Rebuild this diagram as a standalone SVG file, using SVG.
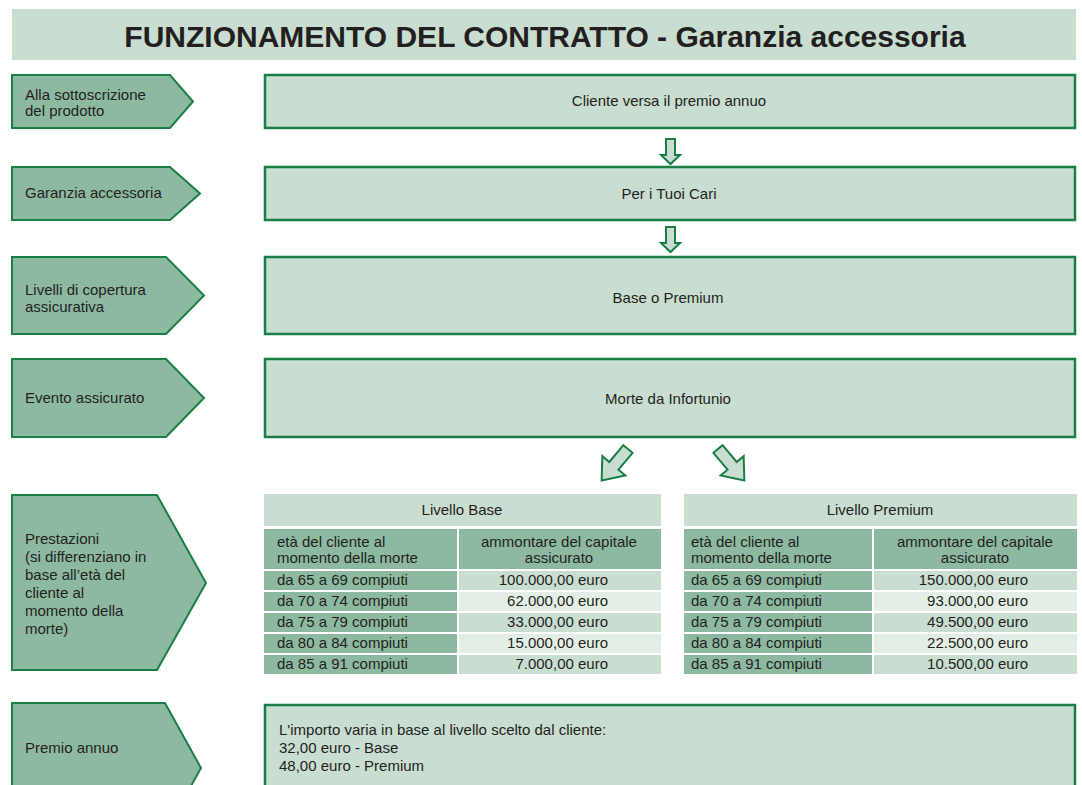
<svg xmlns="http://www.w3.org/2000/svg" width="1082" height="785" viewBox="0 0 1082 785">
<style>
text{font-family:"Liberation Sans",Arial,sans-serif;fill:#231f20;font-size:15px}
.title{font-size:30px;font-weight:bold;text-anchor:middle}
.pent{fill:#8db9a0;stroke:#1a7f45;stroke-width:2}
.box{fill:#c9ddd1;stroke:#1a7f45;stroke-width:2.5}
.arr{fill:#c9ddd1;stroke:#1a7f45;stroke-width:2;stroke-linejoin:miter}
.mid{fill:#8db9a0}
.lt{fill:#c9ddd1}
.lt2{fill:#e3efe6}
.c{text-anchor:middle}
.e{text-anchor:end}
</style>
<rect x="0" y="0" width="1082" height="785" fill="#ffffff"/>
<g id="title">
<rect x="12" y="9" width="1064" height="51" fill="#c9ddd1"/>
<text class="title" x="545" y="47">FUNZIONAMENTO DEL CONTRATTO - Garanzia accessoria</text>
</g>
<g id="lbl1"><polygon class="pent" points="12,75 170,75 193,101.5 170,128 12,128"/><text x="25" y="100">Alla sottoscrizione</text><text x="25" y="116">del prodotto</text></g>
<g id="lbl2"><polygon class="pent" points="12,167 170,167 200,193.5 170,220 12,220"/><text x="25" y="198">Garanzia accessoria</text></g>
<g id="lbl3"><polygon class="pent" points="12,257 166,257 204,295.5 166,334 12,334"/><text x="25" y="295">Livelli di copertura</text><text x="25" y="312">assicurativa</text></g>
<g id="lbl4"><polygon class="pent" points="12,359 166,359 204,398 166,437 12,437"/><text x="25" y="403">Evento assicurato</text></g>
<g id="lbl5"><polygon class="pent" points="12,495 157,495 206,583 157,670 12,670"/>
<text x="25" y="544">Prestazioni</text><text x="25" y="562">(si differenziano in</text><text x="25" y="580">base all’età del</text><text x="25" y="598">cliente al</text><text x="25" y="616">momento della</text><text x="25" y="634">morte)</text></g>
<g id="lbl6"><polygon class="pent" points="12,703 165,703 201,768 165,833 12,833"/><text x="25" y="753">Premio annuo</text></g>

<g id="box1"><rect class="box" x="265" y="75" width="810" height="53"/><text class="c" x="669" y="106">Cliente versa il premio annuo</text></g>
<g id="box2"><rect class="box" x="265" y="167" width="810" height="53"/><text class="c" x="669" y="199">Per i Tuoi Cari</text></g>
<g id="box3"><rect class="box" x="265" y="257" width="810" height="77"/><text class="c" x="668" y="303">Base o Premium</text></g>
<g id="box4"><rect class="box" x="265" y="359" width="810" height="78"/><text class="c" x="668" y="404">Morte da Infortunio</text></g>
<g id="box6"><rect class="box" x="265" y="705" width="810" height="100"/>
<text x="279" y="735">L'importo varia in base al livello scelto dal cliente:</text>
<text x="279" y="753">32,00 euro - Base</text>
<text x="279" y="771">48,00 euro - Premium</text></g>

<g id="connectors">
<polygon class="arr" points="666,139 675,139 675,155 680,155 670.5,164 661,155 666,155"/>
<polygon class="arr" points="666,227 675,227 675,243 680,243 670.5,252 661,243 666,243"/>
<polygon class="arr" transform="translate(628,449) rotate(40)" points="-6,0 6,0 6,22 15,22 0,41 -15,22 -6,22"/>
<polygon class="arr" transform="translate(718,449) rotate(-40)" points="-6,0 6,0 6,22 15,22 0,41 -15,22 -6,22"/>
</g>

<g id="table-base">
<rect class="lt" x="264" y="494" width="397" height="32"/>
<text class="c" x="462" y="515">Livello Base</text>
<rect class="mid" x="264" y="529" width="193" height="40"/>
<rect class="mid" x="459" y="529" width="202" height="40"/>
<text x="277" y="547">età del cliente al</text><text x="277" y="563">momento della morte</text>
<text class="c" x="559" y="547">ammontare del capitale</text><text class="c" x="559" y="563">assicurato</text>
<rect class="mid" x="264" y="571" width="193" height="19"/><rect class="lt" x="459" y="571" width="202" height="19"/>
<rect class="mid" x="264" y="592" width="193" height="19"/><rect class="lt2" x="459" y="592" width="202" height="19"/>
<rect class="mid" x="264" y="613" width="193" height="19"/><rect class="lt" x="459" y="613" width="202" height="19"/>
<rect class="mid" x="264" y="634" width="193" height="19"/><rect class="lt2" x="459" y="634" width="202" height="19"/>
<rect class="mid" x="264" y="655" width="193" height="19"/><rect class="lt" x="459" y="655" width="202" height="19"/>
<text x="277" y="585">da 65 a 69 compiuti</text><text class="e" x="608" y="585">100.000,00 euro</text>
<text x="277" y="606">da 70 a 74 compiuti</text><text class="e" x="608" y="606">62.000,00 euro</text>
<text x="277" y="627">da 75 a 79 compiuti</text><text class="e" x="608" y="627">33.000,00 euro</text>
<text x="277" y="648">da 80 a 84 compiuti</text><text class="e" x="608" y="648">15.000,00 euro</text>
<text x="277" y="669">da 85 a 91 compiuti</text><text class="e" x="608" y="669">7.000,00 euro</text>
</g>

<g id="table-premium">
<rect class="lt" x="684" y="494" width="393" height="32"/>
<text class="c" x="880" y="515">Livello Premium</text>
<rect class="mid" x="684" y="529" width="188" height="40"/>
<rect class="mid" x="874" y="529" width="203" height="40"/>
<text x="691" y="547">età del cliente al</text><text x="691" y="563">momento della morte</text>
<text class="c" x="975" y="547">ammontare del capitale</text><text class="c" x="975" y="563">assicurato</text>
<rect class="mid" x="684" y="571" width="188" height="19"/><rect class="lt" x="874" y="571" width="203" height="19"/>
<rect class="mid" x="684" y="592" width="188" height="19"/><rect class="lt2" x="874" y="592" width="203" height="19"/>
<rect class="mid" x="684" y="613" width="188" height="19"/><rect class="lt" x="874" y="613" width="203" height="19"/>
<rect class="mid" x="684" y="634" width="188" height="19"/><rect class="lt2" x="874" y="634" width="203" height="19"/>
<rect class="mid" x="684" y="655" width="188" height="19"/><rect class="lt" x="874" y="655" width="203" height="19"/>
<text x="691" y="585">da 65 a 69 compiuti</text><text class="e" x="1028" y="585">150.000,00 euro</text>
<text x="691" y="606">da 70 a 74 compiuti</text><text class="e" x="1028" y="606">93.000,00 euro</text>
<text x="691" y="627">da 75 a 79 compiuti</text><text class="e" x="1028" y="627">49.500,00 euro</text>
<text x="691" y="648">da 80 a 84 compiuti</text><text class="e" x="1028" y="648">22.500,00 euro</text>
<text x="691" y="669">da 85 a 91 compiuti</text><text class="e" x="1028" y="669">10.500,00 euro</text>
</g>
</svg>
